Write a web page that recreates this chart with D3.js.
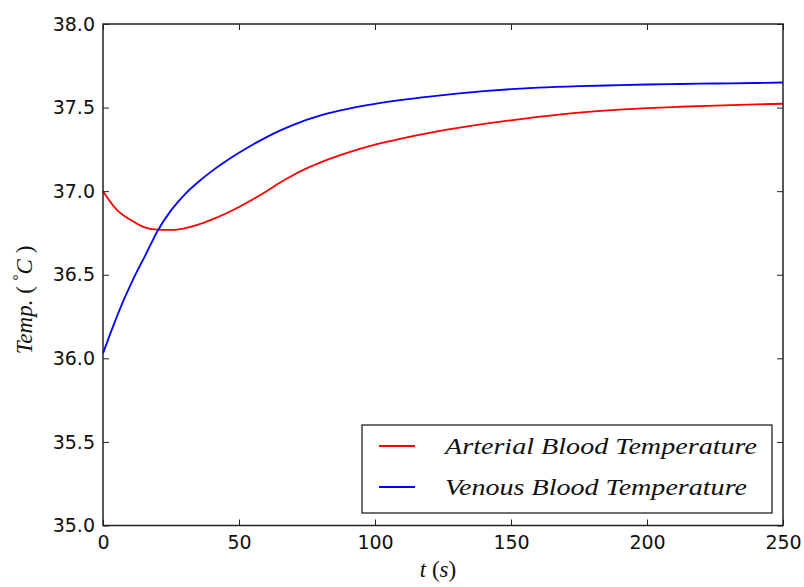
<!DOCTYPE html>
<html>
<head>
<meta charset="utf-8">
<script src="https://cdn.jsdelivr.net/npm/d3@7"></script>
<style>
  html, body { margin: 0; padding: 0; background: #fff; }
  svg { display: block; }
</style>
</head>
<body>
<svg id="chart" width="804" height="587"></svg>
<script>
// ---- data ----
const arterialTime = [0, 5, 10, 15, 20, 25, 30, 35, 40, 45, 50, 55, 60, 65, 70, 75, 80, 90, 100, 110, 120, 130, 140, 150, 160, 175, 190, 200, 212, 225, 240, 250];
const arterialTemp = [37.00, 36.89, 36.83, 36.785, 36.77, 36.768, 36.778, 36.80, 36.83, 36.865, 36.905, 36.95, 36.998, 37.05, 37.097, 37.138, 37.172, 37.23, 37.278, 37.316, 37.349, 37.377, 37.402, 37.424, 37.444, 37.47, 37.488, 37.497, 37.505, 37.512, 37.519, 37.523];

const venousTime = [0, 2.5, 5, 7.5, 10, 12.5, 15, 17.5, 20, 25, 30, 35, 40, 45, 50, 55, 60, 65, 70, 80, 90, 100, 110, 120, 130, 140, 150, 160, 175, 190, 200, 212, 225, 240, 250];
const venousTemp = [36.03, 36.14, 36.245, 36.345, 36.435, 36.52, 36.598, 36.68, 36.76, 36.885, 36.98, 37.055, 37.12, 37.178, 37.23, 37.278, 37.322, 37.362, 37.397, 37.453, 37.492, 37.522, 37.546, 37.566, 37.583, 37.598, 37.61, 37.619, 37.628, 37.634, 37.638, 37.641, 37.644, 37.647, 37.65];

const xTicks = [0, 50, 100, 150, 200, 250];
const yTicks = [35.0, 35.5, 36.0, 36.5, 37.0, 37.5, 38.0];
const seriesNames = ["Arterial Blood Temperature", "Venous Blood Temperature"];
const seriesColors = ["#ff0000", "#0000ff"];

(function () {
// ---- layout ----
const L = 103, R = 783, T = 24, B = 525.5;
const svg = d3.select("#chart");

const x = d3.scaleLinear().domain([0, 250]).range([L, R]);
const y = d3.scaleLinear().domain([35, 38]).range([B, T]);

// lines
const line = d3.line().x(d => x(d[0])).y(d => y(d[1])).curve(d3.curveMonotoneX);
const series = [
  d3.zip(arterialTime, arterialTemp),
  d3.zip(venousTime, venousTemp)
];
const plot = svg.append("g");
series.forEach((s, i) => {
  plot.append("path")
    .attr("d", line(s))
    .attr("fill", "none")
    .attr("stroke", seriesColors[i])
    .attr("stroke-width", 1.8)
    .attr("stroke-linejoin", "round");
});

// axes with inward ticks on all four sides
const tickLen = 6;
const fmtY = d3.format(".1f");
const axisColor = "#222";

const gBottom = svg.append("g").attr("transform", `translate(0,${B})`)
  .call(d3.axisBottom(x).tickValues(xTicks).tickFormat(d3.format("d")).tickSizeInner(-tickLen).tickSizeOuter(0).tickPadding(10));
const gTop = svg.append("g").attr("transform", `translate(0,${T})`)
  .call(d3.axisTop(x).tickValues(xTicks).tickFormat("").tickSizeInner(-tickLen).tickSizeOuter(0));
const gLeft = svg.append("g").attr("transform", `translate(${L},0)`)
  .call(d3.axisLeft(y).tickValues(yTicks).tickFormat(fmtY).tickSizeInner(-tickLen).tickSizeOuter(0).tickPadding(8));
const gRight = svg.append("g").attr("transform", `translate(${R},0)`)
  .call(d3.axisRight(y).tickValues(yTicks).tickFormat("").tickSizeInner(-tickLen).tickSizeOuter(0));

[gBottom, gTop, gLeft, gRight].forEach(g => {
  g.select(".domain").remove();
  g.selectAll(".tick line").attr("stroke", axisColor).attr("stroke-width", 1);
  g.selectAll(".tick text")
    .attr("font-family", "'DejaVu Sans', sans-serif")
    .attr("font-size", 19)
    .attr("fill", "#111");
});
gBottom.selectAll(".tick text").attr("dy", "0.71em");

// frame
svg.append("rect")
  .attr("x", L).attr("y", T)
  .attr("width", R - L).attr("height", B - T)
  .attr("fill", "none")
  .attr("stroke", axisColor)
  .attr("stroke-width", 1.5);

// axis labels (math italic style)
const serif = "'Liberation Serif', 'Times New Roman', serif";
const xl = svg.append("text")
  .attr("x", 438).attr("y", 577)
  .attr("text-anchor", "middle")
  .attr("font-family", serif)
  .attr("font-size", 23)
  .attr("fill", "#111");
xl.append("tspan").attr("font-style", "italic").text("t");
xl.append("tspan").text("  (");
xl.append("tspan").attr("font-style", "italic").text("s");
xl.append("tspan").text(")");

const yl = svg.append("text")
  .attr("transform", "translate(32,300) rotate(-90)")
  .attr("text-anchor", "middle")
  .attr("font-family", serif)
  .attr("font-size", 23)
  .attr("fill", "#111");
yl.append("tspan").attr("font-style", "italic").text("Temp.");
yl.append("tspan").text(" ( ");
yl.append("tspan").attr("font-size", 15).attr("dy", -9).text("°");
yl.append("tspan").attr("font-style", "italic").attr("dy", 9).text("C");
yl.append("tspan").text(" )");

// legend
const lg = svg.append("g");
lg.append("rect")
  .attr("x", 362).attr("y", 425)
  .attr("width", 410).attr("height", 88)
  .attr("fill", "#fff")
  .attr("stroke", "#111")
  .attr("stroke-width", 1.2);
const legY = [446, 487];
const legW = [312, 302];
seriesNames.forEach((name, i) => {
  lg.append("line")
    .attr("x1", 379).attr("x2", 415)
    .attr("y1", legY[i]).attr("y2", legY[i])
    .attr("stroke", seriesColors[i])
    .attr("stroke-width", 1.8);
  lg.append("text")
    .attr("x", 445).attr("y", legY[i] + 8)
    .attr("font-family", serif)
    .attr("font-style", "italic")
    .attr("font-size", 23)
    .attr("fill", "#111")
    .attr("textLength", legW[i])
    .attr("lengthAdjust", "spacingAndGlyphs")
    .text(name);
});
})();
</script>
</body>
</html>
